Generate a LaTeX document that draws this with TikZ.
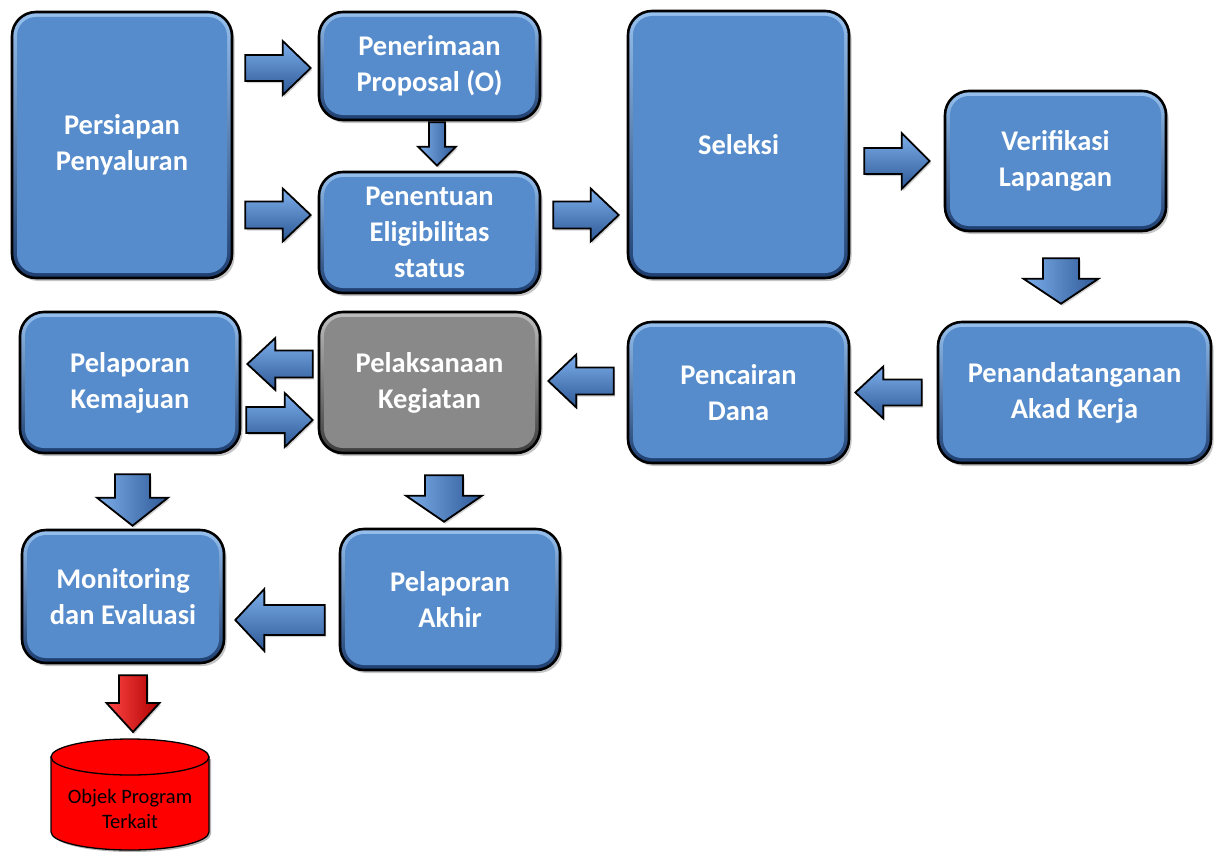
\documentclass[tikz,border=0pt]{standalone}
\usepackage{fontspec}
\setmainfont{Carlito}
\usetikzlibrary{calc,shadows}

\definecolor{boxblue}{RGB}{86,140,204}
\definecolor{bluelight}{RGB}{150,192,238}
\definecolor{bluedark}{RGB}{30,62,112}
\definecolor{boxgray}{RGB}{137,137,137}
\definecolor{graylight}{RGB}{190,190,190}
\definecolor{graydark}{RGB}{60,60,60}
\definecolor{arrlight}{RGB}{125,175,235}
\definecolor{arrdark}{RGB}{45,88,150}
\definecolor{redlight}{RGB}{255,70,70}
\definecolor{reddark}{RGB}{175,0,0}

\tikzset{
  % rounded bevelled process box: shaded rim, flat face inset
  procbox/.style n args={3}{
    rectangle, rounded corners=24pt, draw=black, line width=2.6pt,
    top color=#2, bottom color=#3,
    drop shadow={shadow xshift=2.5pt, shadow yshift=-3pt, opacity=0.45},
    path picture={\fill[#1, rounded corners=19pt]
      ([shift={(5pt,-5pt)}]path picture bounding box.north west) rectangle
      ([shift={(-5pt,5pt)}]path picture bounding box.south east);},
    text=white, align=center, inner sep=0pt,
    font=\fontsize{28.5}{36}\selectfont\bfseries},
  bluebox/.style={procbox={boxblue}{bluelight}{bluedark}},
  graybox/.style={procbox={boxgray}{graylight}{graydark}},
  % block arrow from start point to tip:
  % #1 half shaft width, #2 half head width, #3 head length
  blockarrow/.style n args={3}{draw=black, line width=1.8pt, line join=miter,
    drop shadow={shadow xshift=1.5pt, shadow yshift=-2pt, opacity=0.35},
    to path={let \p1=(\tikztostart), \p2=(\tikztotarget),
      \n1={atan2(\y2-\y1,\x2-\x1)}, \n2={veclen(\x2-\x1,\y2-\y1)} in
      ($(\p1)+({\n1+90}:#1)$)
      -- ($(\p1)+(\n1:{\n2-#3})+({\n1+90}:#1)$)
      -- ($(\p1)+(\n1:{\n2-#3})+({\n1+90}:#2)$)
      -- (\p2)
      -- ($(\p1)+(\n1:{\n2-#3})+({\n1-90}:#2)$)
      -- ($(\p1)+(\n1:{\n2-#3})+({\n1-90}:#1)$)
      -- ($(\p1)+({\n1-90}:#1)$) -- cycle}},
  hshade/.style={top color=arrlight, bottom color=arrdark},
  vshade/.style={left color=arrlight, right color=arrdark},
  rshade/.style={left color=redlight, right color=reddark},
}

\begin{document}
\begin{tikzpicture}[x=1pt,y=1pt]
\useasboundingbox (0,0) rectangle (1214,-851);
\fill[white] (0,0) rectangle (1214,-851);

% process boxes
\node[bluebox, minimum width=220pt, minimum height=266pt] (persiapan) at (122,-145) {Persiapan\\Penyaluran};
\node[bluebox, minimum width=221pt, minimum height=108pt] (penerimaan) at (429.5,-66) {Penerimaan\\Proposal (O)};
\node[bluebox, minimum width=221pt, minimum height=121pt] (penentuan) at (429.5,-232.5) {Penentuan\\Eligibilitas\\status};
\node[bluebox, minimum width=221pt, minimum height=267pt] (seleksi) at (738.5,-144.5) {Seleksi};
\node[bluebox, minimum width=221pt, minimum height=140pt] (verif) at (1055.5,-161) {Verifikasi\\Lapangan};
\node[bluebox, minimum width=273pt, minimum height=141pt] (akad) at (1074.5,-392.5) {Penandatanganan\\Akad Kerja};
\node[bluebox, minimum width=221pt, minimum height=141pt] (pencairan) at (738.5,-392.5) {Pencairan\\Dana};
\node[graybox, minimum width=221pt, minimum height=141pt] (pelaksanaan) at (429.5,-382.5) {Pelaksanaan\\Kegiatan};
\node[bluebox, minimum width=220pt, minimum height=141pt] (kemajuan) at (130,-382.5) {Pelaporan\\Kemajuan};
\node[bluebox, minimum width=202pt, minimum height=133pt] (monev) at (123,-596.5) {Monitoring\\dan Evaluasi};
\node[bluebox, minimum width=220pt, minimum height=141pt] (akhir) at (450,-599.5) {Pelaporan\\Akhir};

% database cylinder
\coordinate (cylc) at (130,-809);
\coordinate (cyltop) at ($(cylc)+(0,66)$);
\fill[black, opacity=0.3] ($(cylc)+(-77,50)$) -- ($(cylc)+(-77,-25)$)
  arc[start angle=180, end angle=360, x radius=79pt, y radius=18pt]
  -- ($(cylc)+(81,50)$) -- cycle;
\filldraw[fill=red, draw=black, line width=1.3pt]
  ($(cylc)+(-79,52)$) -- ($(cylc)+(-79,-23)$)
  arc[start angle=180, end angle=360, x radius=79pt, y radius=18pt]
  -- ($(cylc)+(79,52)$) -- cycle;
\filldraw[fill=red, draw=black, line width=1.3pt] ($(cylc)+(0,52)$) ellipse [x radius=79pt, y radius=18pt];
\node[align=center, inner sep=0pt, text=black, font=\fontsize{20.5}{25}\selectfont] (objek) at (cylc) {Objek Program\\Terkait};

% block arrows
\draw[blockarrow={13}{27}{28}, hshade] ($(persiapan.east |- penerimaan.west)+(12,-2)$) to ($(penerimaan.west)+(-7,-2)$);
\draw[blockarrow={13.5}{26.5}{28}, hshade] ($(persiapan.east |- penentuan.west)+(12,17.5)$) to ($(penentuan.west)+(-7,17.5)$);
\draw[blockarrow={8}{19}{19}, vshade] ($(penerimaan.south)+(7.5,-1)$) to ($(penentuan.north)+(7.5,5)$);
\draw[blockarrow={13.5}{26.5}{28}, hshade] ($(penentuan.east)+(12,17.5)$) to ($(seleksi.west |- penentuan.east)+(-8,17.5)$);
\draw[blockarrow={13}{28}{28}, hshade] ($(seleksi.east |- verif.west)+(14,0)$) to ($(verif.west)+(-14,0)$);
\draw[blockarrow={18}{37.5}{25}, vshade] ($(verif.south)+(5.5,-26)$) to ($(akad.north -| verif.south)+(5.5,17)$);
\draw[blockarrow={13}{26}{28}, hshade] ($(akad.west)+(-15,0)$) to ($(pencairan.east)+(5,0)$);
\draw[blockarrow={13.5}{26.5}{28}, hshade] ($(pencairan.west)+(-13,11.5)$) to ($(pelaksanaan.east |- pencairan.west)+(7,11.5)$);
\draw[blockarrow={13.5}{26}{28}, hshade] ($(pelaksanaan.west)+(-5,18.5)$) to ($(kemajuan.east |- pelaksanaan.west)+(6,18.5)$);
\draw[blockarrow={13}{27}{28}, hshade] ($(kemajuan.east)+(5,-37.5)$) to ($(pelaksanaan.west |- kemajuan.east)+(-5,-37.5)$);
\draw[blockarrow={17.5}{35.5}{28}, vshade] ($(kemajuan.south)+(2.5,-20)$) to ($(monev.north -| kemajuan.south)+(2.5,3)$);
\draw[blockarrow={19}{38}{26}, vshade] ($(pelaksanaan.south)+(14.5,-21)$) to ($(akhir.north -| pelaksanaan.south)+(14.5,6)$);
\draw[blockarrow={15}{31}{29}, hshade] ($(akhir.west)+(-14,-20.5)$) to ($(monev.east |- akhir.west)+(10,-20.5)$);
\draw[blockarrow={14}{26.5}{29}, rshade] ($(monev.south)+(10,-11)$) to ($(cyltop -| monev.south)+(10,11)$);
\end{tikzpicture}
\end{document}
